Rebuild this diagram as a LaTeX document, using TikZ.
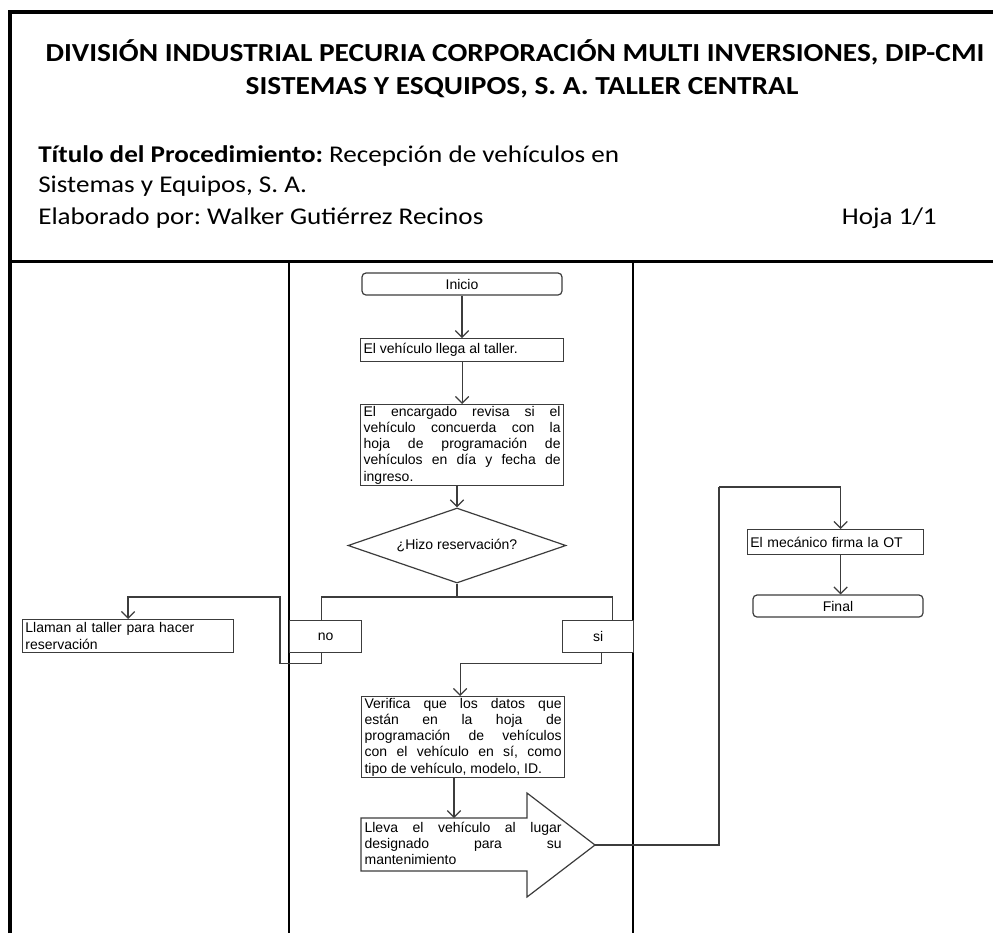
\documentclass[tikz,border=0pt]{standalone}
\usepackage{fontspec}
\setmainfont{Carlito}
\newfontfamily\encabezado[FakeStretch=1.13]{Carlito}
\newfontfamily\arialfam{Liberation Sans}
\usetikzlibrary{positioning, arrows.meta, shapes.geometric, calc}

\definecolor{grisln}{RGB}{60, 60, 60}
\newcommand{\letrachica}{\arialfam\fontsize{10.5}{12.2}\selectfont}
\frenchspacing

\begin{document}
\begin{tikzpicture}[x=0.75pt, y=-0.75pt,
    caja/.style={draw=grisln, line width=0.9pt, fill=white, font=\letrachica},
    paso/.style={caja, anchor=north west, text width=147.75pt, align=justify, inner xsep=2.25pt, inner ysep=1pt},
    terminal/.style={caja, rounded corners=3pt, minimum height=16.5pt},
    opcion/.style={caja, anchor=north west, minimum width=54pt, minimum height=24pt},
    decision/.style={caja, diamond, aspect=2.9, inner sep=0pt, minimum width=163.5pt, minimum height=56.25pt},
    cabeza/.style={font=\encabezado\bfseries\fontsize{19.5}{22}\selectfont, inner sep=0pt},
    datos/.style={font=\encabezado\fontsize{18}{21}\selectfont, inner sep=0pt},
    flecha/.style={draw=grisln, line width=0.9pt, -{Straight Barb[length=5pt, width=10pt]}},
    linea/.style={draw=grisln, line width=0.9pt}]
        \useasboundingbox (0,0) rectangle (993,933);
        % encabezado
        \draw[line width=3pt] (10,933) -- (10,12) -- (993,12);
        \draw[line width=2.25pt] (10,261) -- (993,261);
        \node[cabeza] (titulo) at (515,52) {DIVISIÓN INDUSTRIAL PECURIA CORPORACIÓN MULTI INVERSIONES, DIP-CMI};
        \node[cabeza] (taller) at (522,88) {SISTEMAS Y ESQUIPOS, S. A. TALLER CENTRAL};
        \node[datos, anchor=west] (proc) at (38,156) {\textbf{Título del Procedimiento:} Recepción de vehículos en};
        \node[datos, anchor=west] (empresa) at (38,186) {Sistemas y Equipos, S. A.};
        \node[datos, anchor=west] (autor) at (38,218) {Elaborado por: Walker Gutiérrez Recinos};
        \node[datos, anchor=east] (hoja) at (937,218) {Hoja 1/1};
        % carriles
        \draw[line width=0.9pt] (289,261) -- (289,933);
        \draw[line width=0.9pt] (633,261) -- (633,933);
        % flujo
        \node[terminal, minimum width=150pt] (inicio) at (462,284) {Inicio};
        \node[paso, minimum height=17.25pt] (llega) at (360,338) {El vehículo llega al taller.};
        \node[paso] (revisa) at (360,404) {El encargado revisa si el\linebreak vehículo concuerda con la\linebreak hoja de programación de\linebreak vehículos en día y fecha de\linebreak ingreso.};
        \node[decision] (reserva) at (457,545.5) {¿Hizo reservación?};
        \node[opcion] (no) at (289,620) {no};
        \node[opcion, minimum width=53.25pt] (si) at (562,620) {si};
        \node[caja, anchor=north west, text width=154pt, align=left, inner sep=2.1pt, minimum height=24.75pt] (llaman) at (22,619) {Llaman al taller para hacer\\reservación};
        \node[paso] (verifica) at (361,696) {Verifica que los datos que\linebreak están en la hoja de\linebreak programación de vehículos\linebreak con el vehículo en sí, como\linebreak tipo de vehículo, modelo, ID.};
        \draw[linea, fill=white] (361,818) -- (527,818) -- (527,793) -- (595,845) -- (527,897) -- (527,871) -- (361,871) -- cycle;
        \node[paso, draw=none, fill=none] (lleva) at (361,820) {Lleva el vehículo al lugar\linebreak designado para su\linebreak mantenimiento};
        \node[caja, anchor=north west, text width=128pt, align=left, inner xsep=2pt, minimum height=18.75pt] (mecanico) at (747,529) {El mecánico firma la OT};
        \node[terminal, minimum width=127.5pt] (final) at (838,606) {Final};
        \coordinate (rama) at (457,597);
        \coordinate (retorno) at (280,597);
        \coordinate (cuerpo) at (454,818);
        \coordinate (punta) at (595,845);
        \coordinate (subida) at (719,487);
        \coordinate (bajada) at ($(mecanico.south)+(5,0)$);
        \draw[flecha] (inicio.south) -- (inicio.south |- llega.north);
        \draw[flecha] (llega.south) -- (revisa.north);
        \draw[flecha] (revisa.south -| reserva.north) -- (reserva.north);
        \draw[linea] (reserva.south) -- (rama);
        \draw[linea] ($(no.north)+(-4,0)$) |- (rama) -| ($(si.north)+(14,0)$);
        \draw[flecha] ($(no.south)+(-4,0)$) -- ++(0,10) -| (retorno) -| (llaman.north);
        \draw[flecha] ($(si.south)+(3,0)$) -- ++(0,10) -| ($(verifica.north)+(-3,0)$);
        \draw[flecha] (verifica.south -| cuerpo) -- (cuerpo);
        \draw[linea] (punta) -| (subida);
        \draw[flecha] (subida) -| ($(mecanico.north)+(5,0)$);
        \draw[flecha] (bajada) -- (bajada |- final.north);
      \end{tikzpicture}
\end{document}
